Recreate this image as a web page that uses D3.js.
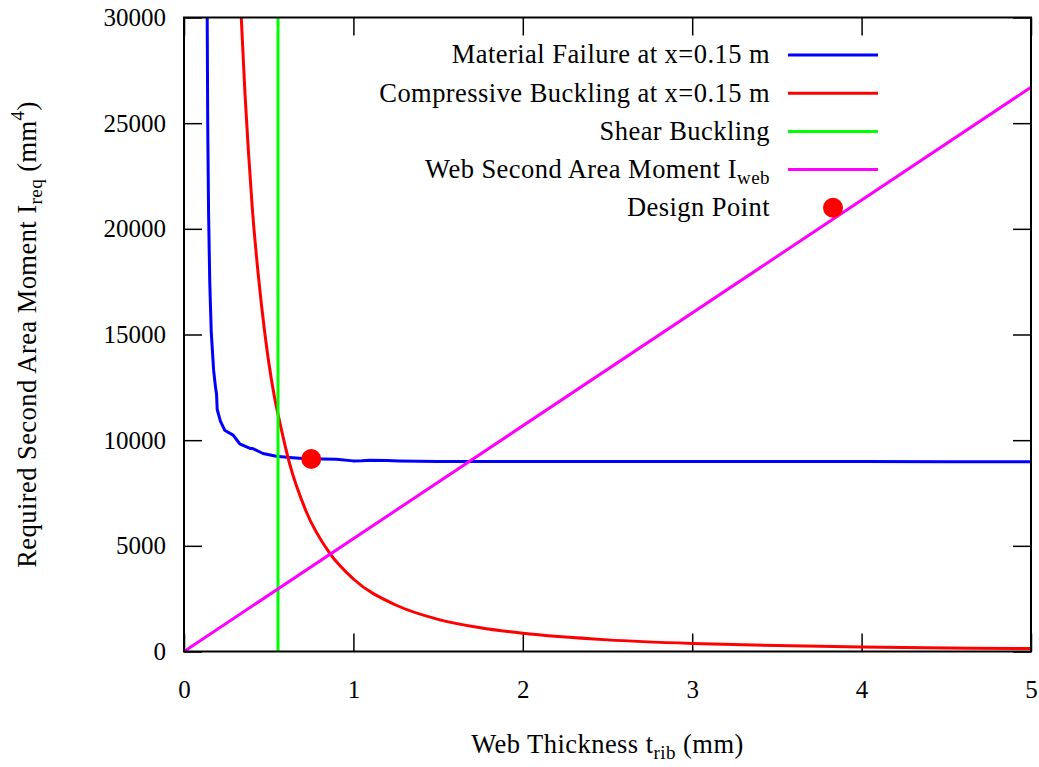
<!DOCTYPE html>
<html>
<head>
<meta charset="utf-8">
<script src="https://cdn.jsdelivr.net/npm/d3@7"></script>
<style>
  body { margin: 0; background: #fff; }
  text { font-family: "Liberation Serif", serif; fill: #000; }
  .label { letter-spacing: 0.45px; }
</style>
</head>
<body>
<svg id="chart" width="1039" height="767"></svg>
<script>
// values
const xTicks = [0, 1, 2, 3, 4, 5];
const yTicks = [0, 5000, 10000, 15000, 20000, 25000, 30000];

// material failure at x=0.15 m
const failT = [0.137, 0.140, 0.145, 0.152, 0.161, 0.175, 0.186, 0.192, 0.196, 0.215, 0.240, 0.290, 0.329, 0.390, 0.406, 0.466, 0.545, 0.623, 0.702, 0.820, 0.900, 0.997, 1.050, 1.096, 1.200, 1.270, 1.500, 2.000, 2.500, 3.000, 3.500, 4.000, 4.500, 5.000];
const failI = [30000, 25000, 20800, 17500, 15100, 13300, 12500, 12200, 11450, 10900, 10470, 10240, 9830, 9610, 9600, 9370, 9240, 9180, 9130, 9110, 9100, 9020, 9030, 9050, 9040, 9020, 8995, 8990, 8990, 8990, 8985, 8985, 8980, 8980];

// compressive buckling at x=0.15 m
const buckT = [0.338, 0.360, 0.380, 0.403, 0.440, 0.475, 0.500, 0.535, 0.564, 0.623, 0.720, 0.860, 1.000, 1.250, 1.500, 1.750, 2.000, 2.500, 3.000, 3.500, 4.000, 4.500, 5.000];
const buckI = [30000, 26400, 23700, 21000, 17700, 15200, 13700, 12000, 10900, 8900, 6650, 4650, 3430, 2200, 1520, 1120, 860, 550, 380, 280, 215, 170, 137];

// shear buckling (vertical limit)
const shearT = [0.555, 0.555];
const shearI = [0, 30000];

// web second area moment
const webT = [0, 5];
const webI = [0, 26700];

// design point
const designT = [0.751];
const designI = [9110];

const seriesNames = [
  "Material Failure at x=0.15 m",
  "Compressive Buckling at x=0.15 m",
  "Shear Buckling",
  "Web Second Area Moment I",
  "Design Point",
];
const seriesColors = ["#0000ff", "#ff0000", "#00ff00", "#ff00ff", "#ff0000"];

const mLeft = 184, mRight = 1031, mTop = 17.5, mBottom = 651.5;
const gw = mRight - mLeft, gh = mBottom - mTop;

const svg = d3.select("#chart");
const g = svg.append("g").attr("transform", `translate(${mLeft},${mTop})`);

//scales
const xScale = d3.scaleLinear().domain([0, 5]).range([0, gw]);
const yScale = d3.scaleLinear().domain([0, 30000]).range([gh, 0]);

svg.append("defs").append("clipPath").attr("id", "clip")
  .append("rect").attr("width", gw).attr("height", gh);

//axis - gnuplot style ticks inward on all four sides
const styleAxis = (sel) => {
  sel.select(".domain").remove();
  sel.selectAll(".tick line").attr("stroke", "#000").attr("stroke-width", 1.5);
  sel.selectAll("text").attr("font-size", 25).attr("font-family", "Liberation Serif");
};
g.append("g").attr("transform", `translate(0,${gh})`)
  .call(d3.axisBottom(xScale).tickValues(xTicks).tickSize(-18).tickPadding(29).tickFormat(d3.format("d")))
  .call(styleAxis);
g.append("g")
  .call(d3.axisLeft(yScale).tickValues(yTicks).tickSize(-18).tickPadding(18).tickFormat(d3.format("d")))
  .call(styleAxis);
g.append("g")
  .call(d3.axisTop(xScale).tickValues(xTicks).tickSize(-18).tickFormat(""))
  .call(styleAxis);
g.append("g").attr("transform", `translate(${gw},0)`)
  .call(d3.axisRight(yScale).tickValues(yTicks).tickSize(-18).tickFormat(""))
  .call(styleAxis);

//lines
const plot = g.append("g").attr("clip-path", "url(#clip)");
const zip = (ts, is) => ts.map((t, i) => ({ t, v: is[i] }));
const lineLin = d3.line().x((d) => xScale(d.t)).y((d) => yScale(d.v));
const lineSmooth = d3.line().curve(d3.curveMonotoneX).x((d) => xScale(d.t)).y((d) => yScale(d.v));

const lines = [
  { data: zip(failT, failI), gen: lineLin, color: seriesColors[0] },
  { data: zip(buckT, buckI), gen: lineSmooth, color: seriesColors[1] },
  { data: zip(shearT, shearI), gen: lineLin, color: seriesColors[2] },
  { data: zip(webT, webI), gen: lineLin, color: seriesColors[3] },
];
lines.forEach((s) => {
  plot.append("path")
    .attr("d", s.gen(s.data))
    .attr("fill", "none")
    .attr("stroke", s.color)
    .attr("stroke-width", 3)
    .attr("stroke-linejoin", "round");
});
plot.selectAll(".design")
  .data(zip(designT, designI))
  .join("circle")
  .attr("cx", (d) => xScale(d.t))
  .attr("cy", (d) => yScale(d.v))
  .attr("r", 10)
  .attr("fill", seriesColors[4]);

// frame
g.append("rect").attr("width", gw).attr("height", gh)
  .attr("fill", "none").attr("stroke", "#000").attr("stroke-width", 2);

//legend
const legend = svg.append("g");
seriesNames.forEach((name, i) => {
  const y = 55 + i * 38.2;
  const txt = legend.append("text").attr("class", "label")
    .attr("x", 770).attr("y", y).attr("dy", "0.32em")
    .attr("text-anchor", "end").attr("font-size", 26.5);
  txt.append("tspan").text(name);
  if (i === 3) {
    txt.append("tspan").attr("font-size", 19).attr("dy", 6).text("web");
  }
  if (i < 4) {
    legend.append("line")
      .attr("x1", 788).attr("x2", 878).attr("y1", y).attr("y2", y)
      .attr("stroke", seriesColors[i]).attr("stroke-width", 3);
  } else {
    legend.append("circle").attr("cx", 833).attr("cy", y).attr("r", 10)
      .attr("fill", seriesColors[i]);
  }
});

//axis titles
const xt = svg.append("text").attr("class", "label")
  .attr("x", (mLeft + mRight) / 2).attr("y", 753)
  .attr("text-anchor", "middle").attr("font-size", 26.5);
xt.append("tspan").text("Web Thickness t");
xt.append("tspan").attr("font-size", 19).attr("dy", 6).text("rib");
xt.append("tspan").attr("dy", -6).text(" (mm)");

const yt = svg.append("text").attr("class", "label")
  .attr("transform", `translate(36,${(mTop + mBottom) / 2}) rotate(-90)`)
  .attr("text-anchor", "middle").attr("font-size", 26.5);
yt.append("tspan").text("Required Second Area Moment I");
yt.append("tspan").attr("font-size", 19).attr("dy", 6).text("req");
yt.append("tspan").attr("dy", -6).text(" (mm");
yt.append("tspan").attr("font-size", 19).attr("dy", -12).text("4");
yt.append("tspan").attr("dy", 12).text(")");
</script>
</body>
</html>
